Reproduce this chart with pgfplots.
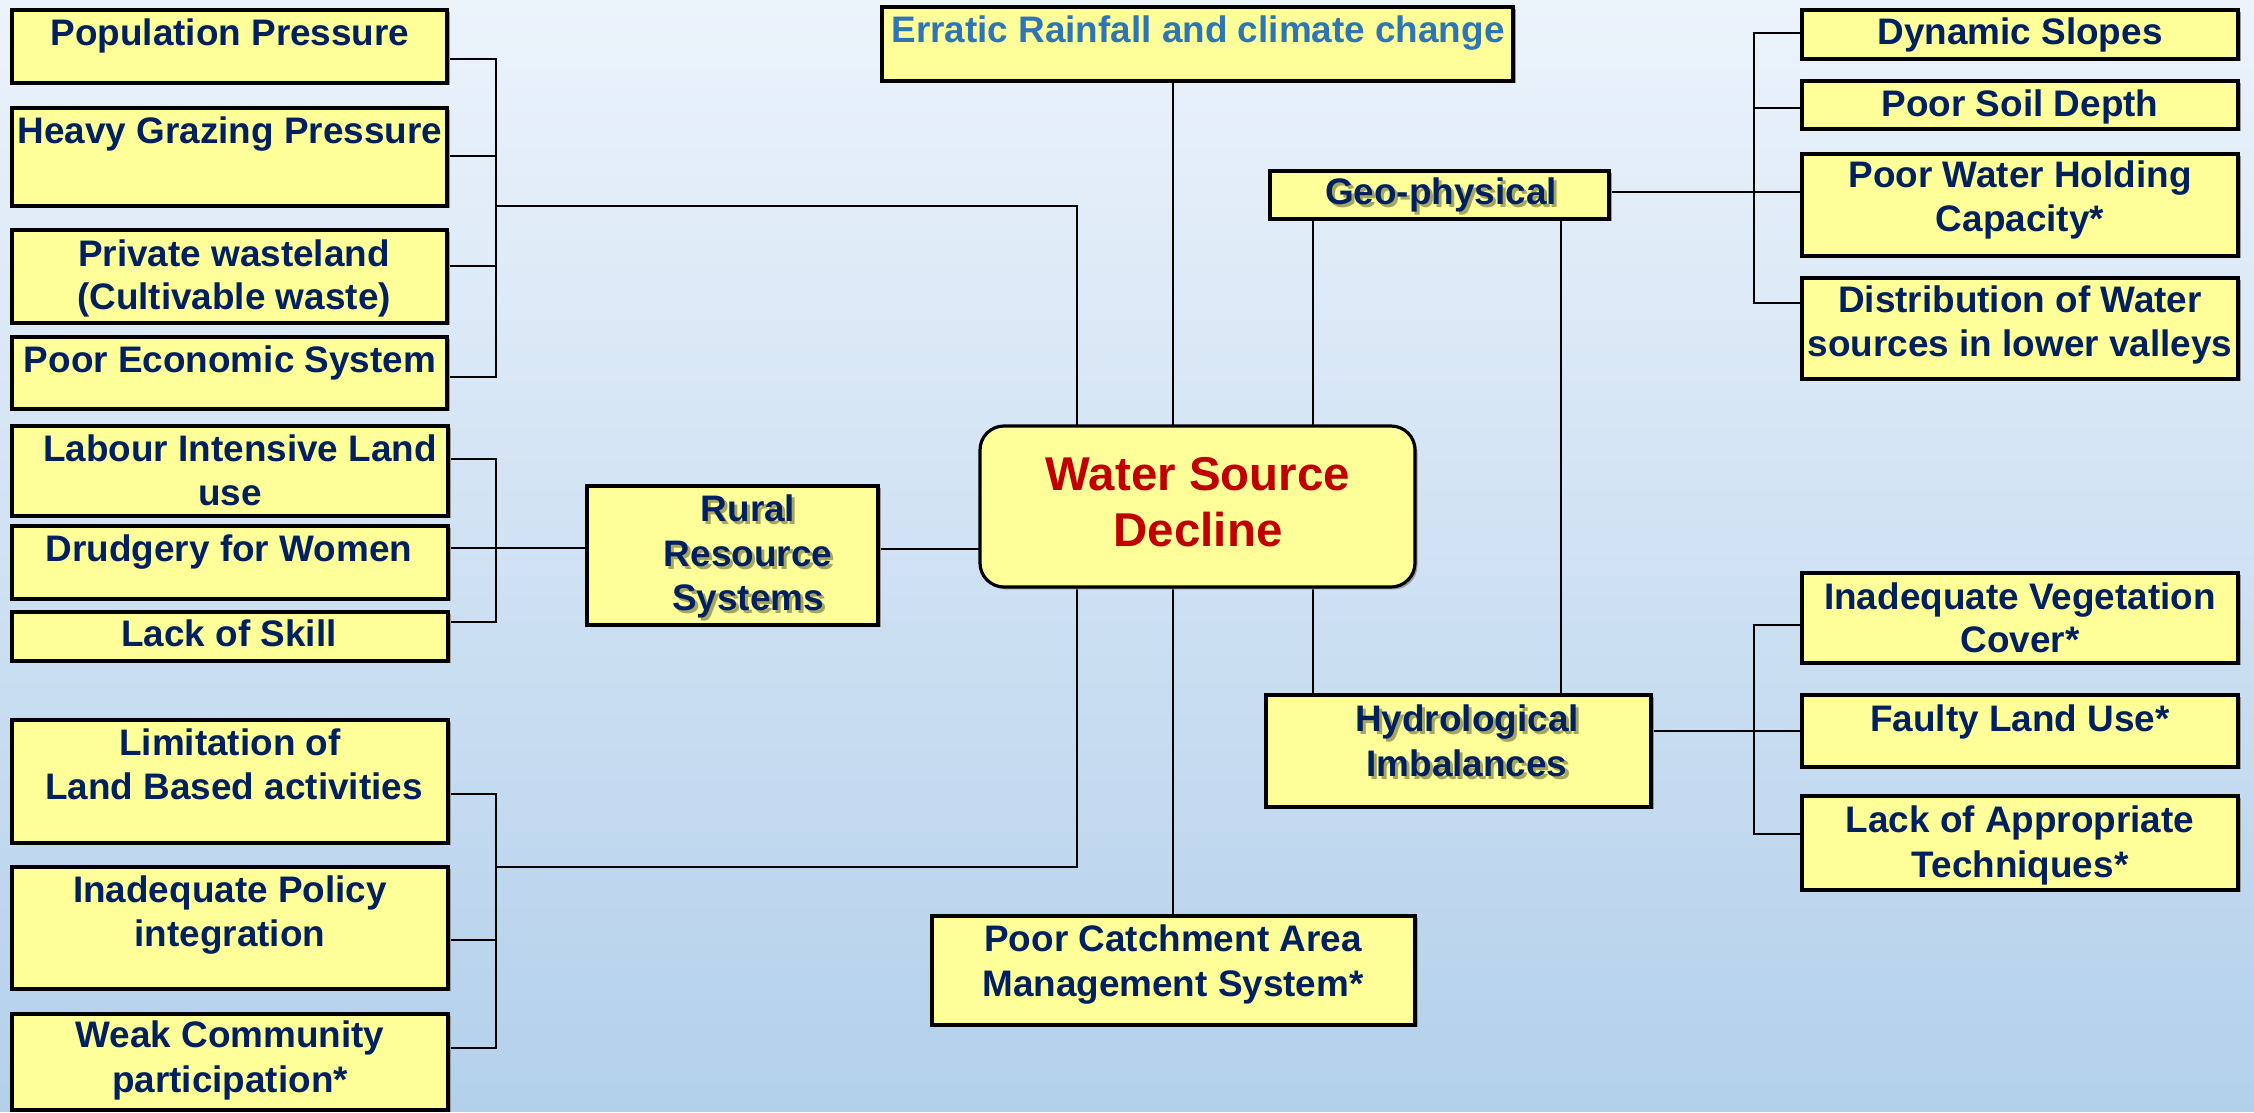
\documentclass[border=0pt]{standalone}
\usepackage{pgfplots}
\pgfplotsset{compat=1.18}
\usepackage{fontspec}
\setmainfont{Liberation Sans}
\definecolor{navy}{RGB}{0,32,96}
\definecolor{erratic}{RGB}{46,117,182}
\definecolor{redt}{RGB}{192,0,0}
\definecolor{boxy}{RGB}{255,255,153}
\definecolor{bgtop}{RGB}{236,243,251}
\definecolor{bgbot}{RGB}{179,208,235}
\pgfplotsset{conn/.style={black,solid,line width=0.65pt,mark=none}}
\newcommand{\bx}[4]{%
 \fill[black!40,xshift=0.025cm,yshift=-0.025cm] (axis cs:#1,#2) rectangle (axis cs:#3,#4);
 \draw[fill=boxy,draw=black,line width=0.9pt] (axis cs:#1,#2) rectangle (axis cs:#3,#4);}
\newcommand{\T}[3]{\node[anchor=base,inner sep=0pt,text=navy,font=\fontsize{10.5}{12}\selectfont\bfseries] at (axis cs:#1,#2) {#3};}
\newcommand{\TS}[3]{\node[anchor=base,inner sep=0pt,text=black,opacity=0.35,font=\fontsize{10.5}{12}\selectfont\bfseries,xshift=0.03cm,yshift=-0.03cm] at (axis cs:#1,#2) {#3};
 \T{#1}{#2}{#3}}
\begin{document}
\begin{tikzpicture}
\begin{axis}[width=22.54cm,height=11.12cm,scale only axis,hide axis,
  xmin=0,xmax=2254,ymin=0,ymax=1112,y dir=reverse,clip=false]
\shade[top color=bgtop,bottom color=bgbot] (axis cs:0,0) rectangle (axis cs:2254,1112);
% connectors
\addplot[conn] coordinates {(447,59) (496,59) (496,377) (447,377)};
\addplot[conn] coordinates {(447,156) (496,156)};
\addplot[conn] coordinates {(447,266) (496,266)};
\addplot[conn] coordinates {(496,206) (1077,206) (1077,867) (496,867)};
\addplot[conn] coordinates {(448,459) (496,459) (496,622) (448,622)};
\addplot[conn] coordinates {(448,548) (587,548)};
\addplot[conn] coordinates {(878,549) (980,549)};
\addplot[conn] coordinates {(448,794) (496,794) (496,1048) (448,1048)};
\addplot[conn] coordinates {(448,940) (496,940)};
\addplot[conn] coordinates {(1173,81) (1173,916)};
\addplot[conn] coordinates {(1313,219) (1313,695)};
\addplot[conn] coordinates {(1561,219) (1561,695)};
\addplot[conn] coordinates {(1802,33) (1754,33) (1754,303) (1802,303)};
\addplot[conn] coordinates {(1754,108) (1802,108)};
\addplot[conn] coordinates {(1609,192) (1802,192)};
\addplot[conn] coordinates {(1802,625) (1754,625) (1754,834) (1802,834)};
\addplot[conn] coordinates {(1651,731) (1802,731)};
% boxes left
\bx{12}{10}{447}{83}
\bx{12}{108}{447}{206}
\bx{12}{230}{447}{323}
\bx{12}{337}{447}{409}
\bx{12}{426}{448}{516}
\bx{12}{526}{448}{599}
\bx{12}{612}{448}{661}
\bx{12}{720}{448}{843}
\bx{12}{867}{448}{989}
\bx{12}{1014}{448}{1110}
% middle
\bx{882}{7}{1513}{81}
\bx{1270}{171}{1609}{219}
\bx{587}{486}{878}{625}
\bx{1266}{695}{1651}{807}
\bx{932}{916}{1415}{1025}
\fill[black!40,xshift=0.025cm,yshift=-0.025cm,rounded corners=0.24cm] (axis cs:980,426) rectangle (axis cs:1415,587);
\draw[fill=boxy,draw=black,line width=0.9pt,rounded corners=0.24cm] (axis cs:980,426) rectangle (axis cs:1415,587);
% right
\bx{1802}{10}{2238}{59}
\bx{1802}{81}{2238}{129}
\bx{1802}{154}{2238}{256}
\bx{1802}{278}{2238}{379}
\bx{1802}{573}{2238}{663}
\bx{1802}{695}{2238}{767}
\bx{1802}{796}{2238}{890}
% texts left
\T{230}{46}{Population Pressure}
\T{230}{144}{Heavy Grazing Pressure}
\T{234}{267}{Private wasteland}
\T{234}{310}{(Cultivable waste)}
\T{230}{373}{Poor Economic System}
\T{240}{462}{Labour Intensive Land}
\T{230}{506}{use}
\T{229}{562}{Drudgery for Women}
\T{229}{647}{Lack of Skill}
\T{230}{756}{Limitation of}
\T{234}{800}{Land Based activities}
\T{230}{903}{Inadequate Policy}
\T{230}{947}{integration}
\T{230}{1048}{Weak Community}
\T{230}{1093}{participation*}
% middle texts
\node[anchor=base,inner sep=0pt,text=erratic,font=\fontsize{10.5}{12}\selectfont\bfseries] at (axis cs:1198,43) {Erratic Rainfall and climate change};
\TS{1441}{205}{Geo-physical}
\TS{748}{522}{Rural}
\TS{748}{567}{Resource}
\TS{748}{611}{Systems}
\node[anchor=base,inner sep=0pt,text=redt,font=\fontsize{13.5}{16}\selectfont\bfseries] at (axis cs:1198,491) {Water Source};
\node[anchor=base,inner sep=0pt,text=redt,font=\fontsize{13.5}{16}\selectfont\bfseries] at (axis cs:1198,547) {Decline};
\TS{1467}{732}{Hydrological}
\TS{1467}{777}{Imbalances}
\T{1173}{952}{Poor Catchment Area}
\T{1173}{997}{Management System*}
% right texts
\T{2020}{45}{Dynamic Slopes}
\T{2020}{117}{Poor Soil Depth}
\T{2020}{188}{Poor Water Holding}
\T{2020}{232}{Capacity*}
\T{2020}{313}{Distribution of Water}
\T{2020}{357}{sources in lower valleys}
\T{2020}{610}{Inadequate Vegetation}
\T{2020}{653}{Cover*}
\T{2020}{732}{Faulty Land Use*}
\T{2020}{833}{Lack of Appropriate}
\T{2020}{878}{Techniques*}
\end{axis}
\end{tikzpicture}
\end{document}
